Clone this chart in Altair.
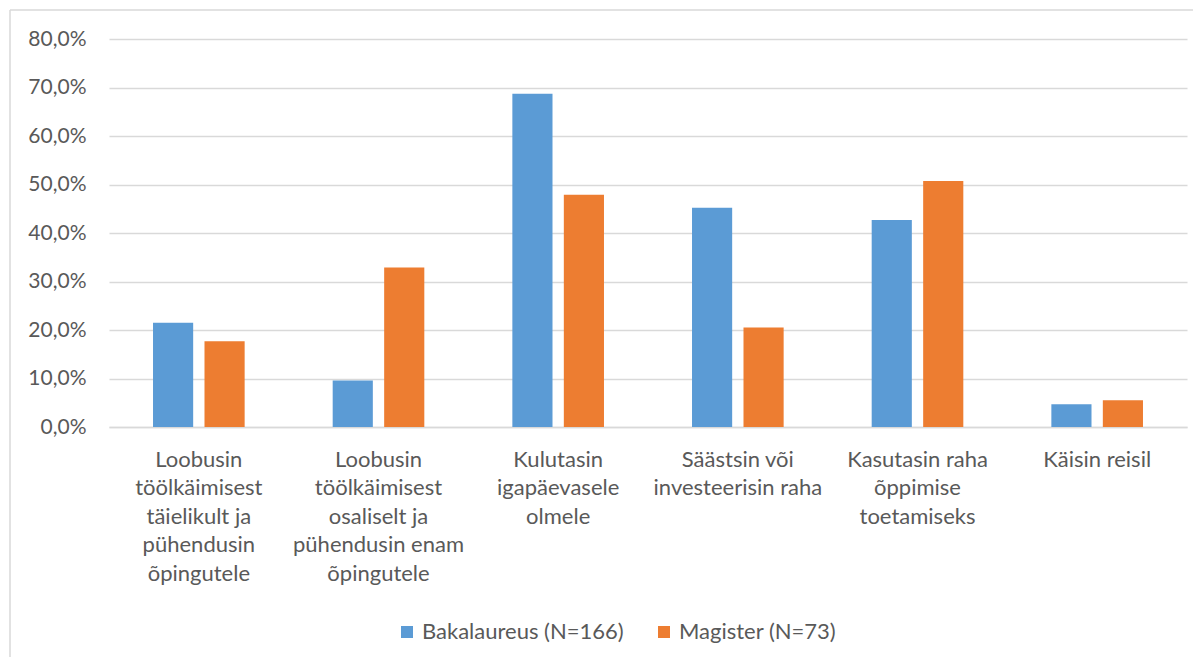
import altair as alt
import pandas as pd

categories = [
    "Loobusin|töölkäimisest|täielikult ja|pühendusin|õpingutele",
    "Loobusin|töölkäimisest|osaliselt ja|pühendusin enam|õpingutele",
    "Kulutasin|igapäevasele|olmele",
    "Säästsin või|investeerisin raha",
    "Kasutasin raha|õppimise|toetamiseks",
    "Käisin reisil",
]
series = ["Bakalaureus (N=166)", "Magister (N=73)"]
bakalaureus = [0.215, 0.096, 0.687, 0.452, 0.427, 0.047]
magister = [0.177, 0.329, 0.479, 0.205, 0.507, 0.055]
y_ticks = [0.0, 0.1, 0.2, 0.3, 0.4, 0.5, 0.6, 0.7, 0.8]
colors = ["#5B9BD5", "#ED7D31"]

rows = []
for c, b, m in zip(categories, bakalaureus, magister):
    rows.append({"category": c, "series": series[0], "value": b})
    rows.append({"category": c, "series": series[1], "value": m})
df = pd.DataFrame(rows)

FONT = "Lato"
TXT = "#595959"
GRID = "#d9d9d9"

bars = alt.Chart(df).mark_bar().encode(
    x=alt.X(
        "category:N",
        sort=categories,
        scale=alt.Scale(paddingInner=0.49, paddingOuter=0.245),
        axis=alt.Axis(
            title=None, labelAngle=0, labelExpr="split(datum.label, '|')",
            labelLineHeight=28.5, labelFontSize=22, labelColor=TXT, labelFont=FONT,
            ticks=False, domain=True, domainColor=GRID, domainWidth=1.5,
            labelPadding=22, labelLimit=400, labelBaseline="top",
        ),
    ),
    xOffset=alt.XOffset("series:N", sort=series,
                        scale=alt.Scale(paddingInner=0.22, paddingOuter=0)),
    y=alt.Y(
        "value:Q",
        scale=alt.Scale(domain=[0, 0.8], nice=False),
        axis=alt.Axis(
            title=None, values=y_ticks,
            labelExpr="replace(format(datum.value, '.1%'), '.', ',')",
            grid=True, gridColor=GRID, gridWidth=1.5, domain=False, ticks=False,
            labelPadding=23, labelFontSize=21, labelColor=TXT, labelFont=FONT,
        ),
    ),
    color=alt.Color(
        "series:N", sort=series,
        scale=alt.Scale(domain=series, range=colors),
        legend=alt.Legend(
            title=None, orient="none", legendX=287, legendY=582,
            direction="horizontal", symbolType="square", symbolSize=144,
            symbolStrokeWidth=0, labelFontSize=22, labelColor=TXT, labelFont=FONT,
            labelLimit=400, columnPadding=29, labelOffset=4, padding=0,
        ),
    ),
)

frame = pd.DataFrame({"k": [0]})
top_border = alt.Chart(frame).mark_rule(color=GRID, strokeWidth=1.5).encode(
    x=alt.value(-99), x2=alt.value(1090), y=alt.value(-29)
)
left_border = alt.Chart(frame).mark_rule(color=GRID, strokeWidth=1.5).encode(
    x=alt.value(-99), y=alt.value(-29), y2=alt.value(640)
)

chart = alt.layer(bars, top_border, left_border).properties(
    width=1078, height=388, autosize="none", background="white",
    padding={"left": 101, "top": 31, "right": 6, "bottom": 230},
).configure_view(strokeWidth=0, stroke="transparent")

chart.save("out.html", embed_options={"renderer": "svg", "actions": False})
